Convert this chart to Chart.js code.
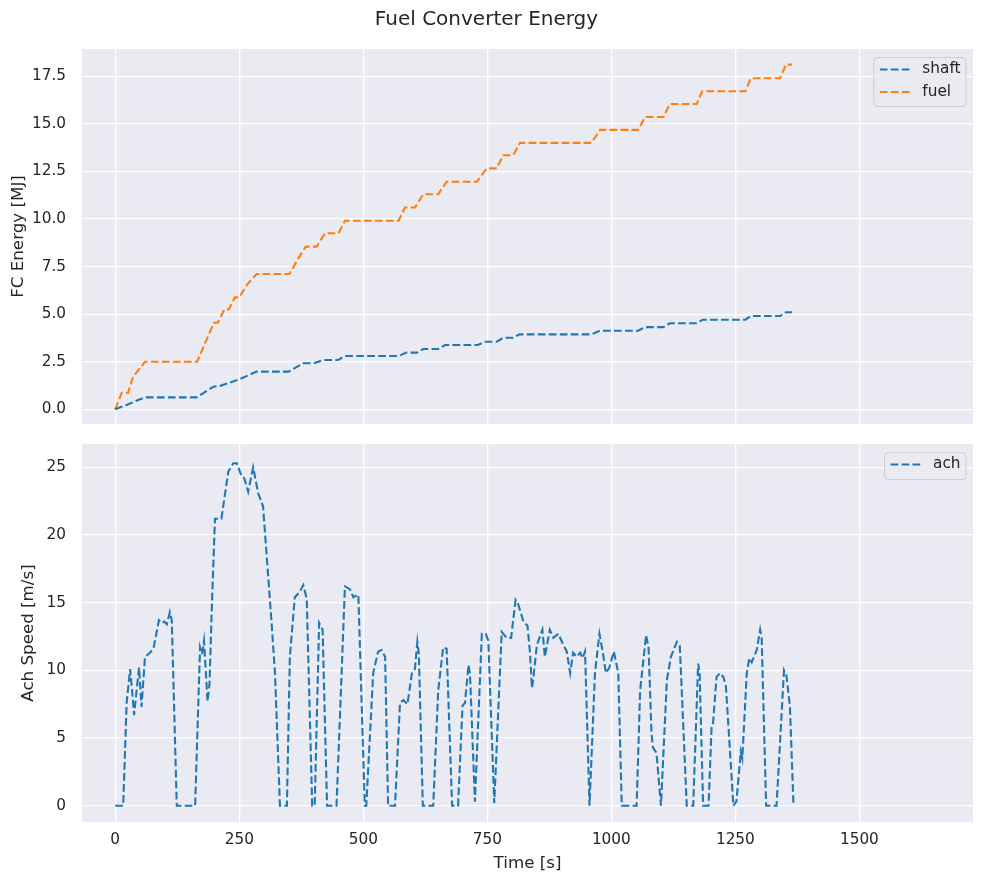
<!DOCTYPE html>
<html>
<head>
<meta charset="utf-8">
<title>Fuel Converter Energy</title>
<script src="https://cdn.jsdelivr.net/npm/chart.js@4.4.1/dist/chart.umd.min.js"></script>
<style>
    body { margin: 0; background: #ffffff; }
    .figure { position: relative; width: 984px; height: 884px; }
    .panel { position: absolute; left: 0; width: 984px; }
</style>
</head>
<body>
<div class="figure">
    <div class="panel" style="top: 0px; height: 440px;"><canvas id="energyChart" width="984" height="440"></canvas></div>
    <div class="panel" style="top: 440px; height: 444px;"><canvas id="speedChart" width="984" height="444"></canvas></div>
</div>
<script>
// fuel converter energy (time in s, energy in MJ)
const fuelTime = [0, 13, 26, 36, 60, 165, 199, 207, 220, 229, 241, 250, 265, 285, 351, 369, 384, 406, 423, 450, 463, 571, 584, 604, 621, 651, 668, 729, 749, 769, 782, 802, 816, 960, 977, 1054, 1068, 1105, 1118, 1172, 1183, 1270, 1281, 1340, 1352, 1364]
const fuelEnergy = [0, 0.87, 0.87, 1.71, 2.50, 2.50, 4.55, 4.55, 5.25, 5.25, 5.88, 5.88, 6.53, 7.11, 7.11, 7.93, 8.55, 8.55, 9.25, 9.25, 9.91, 9.91, 10.6, 10.6, 11.3, 11.3, 11.96, 11.96, 12.66, 12.66, 13.35, 13.35, 14.0, 14.0, 14.68, 14.68, 15.36, 15.36, 16.04, 16.04, 16.71, 16.71, 17.39, 17.39, 18.11, 18.11]

const shaftTime = [0, 23, 46, 60, 164, 198, 210, 251, 285, 349, 379, 400, 419, 449, 463, 571, 587, 609, 621, 651, 665, 731, 745, 769, 782, 802, 815, 960, 977, 1054, 1068, 1105, 1118, 1172, 1184, 1270, 1281, 1340, 1352, 1364]
const shaftEnergy = [0, 0.23, 0.49, 0.63, 0.63, 1.19, 1.22, 1.59, 1.98, 1.98, 2.42, 2.42, 2.59, 2.59, 2.80, 2.80, 2.98, 2.98, 3.17, 3.17, 3.38, 3.38, 3.55, 3.55, 3.76, 3.76, 3.94, 3.94, 4.13, 4.13, 4.32, 4.32, 4.52, 4.52, 4.71, 4.71, 4.90, 4.90, 5.10, 5.10]

// achieved speed (m/s)
const achTime = [0, 16, 23, 30, 34, 38, 43, 48, 53, 60, 70, 77, 88, 93, 99, 104, 110, 114, 124, 161, 171, 175, 179, 186, 190, 195, 201, 214, 228, 238, 245, 255, 260, 268, 278, 288, 298, 315, 322, 332, 346, 352, 362, 372, 379, 386, 397, 402, 411, 418, 427, 446, 463, 473, 480, 490, 503, 506, 520, 530, 537, 544, 550, 564, 574, 581, 589, 598, 604, 609, 612, 620, 641, 651, 661, 668, 679, 691, 700, 705, 712, 715, 725, 739, 747, 752, 764, 779, 789, 798, 807, 812, 823, 831, 836, 840, 843, 850, 861, 866, 876, 883, 893, 903, 910, 917, 923, 930, 937, 942, 947, 956, 967, 976, 983, 989, 996, 1005, 1014, 1021, 1051, 1058, 1070, 1075, 1081, 1084, 1091, 1100, 1112, 1120, 1132, 1138, 1152, 1165, 1175, 1178, 1185, 1196, 1202, 1205, 1212, 1219, 1226, 1231, 1246, 1252, 1261, 1264, 1273, 1278, 1283, 1293, 1300, 1303, 1312, 1333, 1348, 1353, 1360, 1367]
const achSpeed = [0, 0, 7.6, 10.1, 8.5, 6.7, 8.5, 10.2, 7.3, 11.0, 11.3, 11.6, 13.7, 13.5, 13.6, 13.4, 14.3, 13.7, 0, 0, 11.7, 11.2, 12.2, 7.7, 9.0, 15.0, 21.2, 21.2, 24.7, 25.3, 25.3, 24.3, 24.2, 23.2, 25.0, 23.1, 22.1, 13.6, 9.8, 0, 0, 11.0, 15.4, 15.8, 16.3, 15.3, 0, 0, 13.5, 13.0, 0, 0, 16.2, 16.0, 15.4, 15.6, 0, 0, 9.8, 11.4, 11.5, 11.0, 0, 0, 7.6, 7.8, 7.5, 9.8, 10.1, 12.1, 11.2, 0, 0, 8.5, 11.7, 11.6, 0, 0, 7.4, 7.6, 10.4, 9.8, 0.3, 12.7, 12.7, 12.2, 0.2, 12.85, 12.4, 12.4, 15.2, 14.9, 13.6, 13.3, 11.3, 8.7, 9.5, 11.9, 13.0, 11.0, 13.0, 12.4, 12.7, 11.9, 11.4, 9.8, 11.3, 11.0, 11.3, 10.9, 11.4, 0, 9.8, 12.7, 11.3, 9.8, 10.2, 11.4, 9.8, 0, 0, 8.5, 12.6, 11.7, 5.3, 4.3, 3.9, 0, 9.3, 11.0, 12.1, 11.8, 0, 0, 10.5, 9.8, 0, 0, 5.8, 6.1, 9.5, 9.8, 9.5, 8.8, 0, 0.3, 4.0, 3.5, 9.8, 10.9, 10.6, 11.5, 13.0, 12.4, 0, 0, 10.0, 9.6, 7.3, 0.2]

const timeTicks = [0, 250, 500, 750, 1000, 1250, 1500]

const fontFamily = "'DejaVu Sans', 'Liberation Sans', sans-serif"
const textColor = '#262626'
const blue = '#1f77b4'
const orange = '#ff7f0e'

Chart.defaults.font.family = fontFamily
Chart.defaults.color = textColor

function toPoints(xs, ys) {
    return xs.map((x, i) => ({ x: x, y: ys[i] }))
}

function lineDataset(label, xs, ys, color) {
    return {
        label: label,
        data: toPoints(xs, ys),
        borderColor: color,
        backgroundColor: color,
        borderWidth: 2.1,
        borderDash: [7.7, 3.3],
        pointRadius: 0,
        tension: 0,
        fill: false
    }
}

// seaborn-ish grey panel behind the plot
const panelBackground = {
    id: 'panelBackground',
    beforeDraw(chart) {
        const { ctx, chartArea } = chart
        ctx.save()
        ctx.fillStyle = '#eaeaf2'
        ctx.fillRect(chartArea.left, chartArea.top, chartArea.right - chartArea.left, chartArea.bottom - chartArea.top)
        ctx.restore()
    }
}

// matplotlib style legend in the upper right corner of the plot
const cornerLegend = {
    id: 'cornerLegend',
    afterDraw(chart) {
        const { ctx, chartArea } = chart
        const sets = chart.data.datasets
        ctx.save()
        ctx.font = '15.3px ' + fontFamily
        let textW = 0
        sets.forEach(ds => { textW = Math.max(textW, ctx.measureText(ds.label).width) })
        const w = 6 + 30 + 12.5 + textW + 5.5
        const h = 5 + sets.length * 22
        const right = chartArea.right - 7
        const left = right - w
        const top = chartArea.top + 8.5

        ctx.beginPath()
        ctx.roundRect(left, top, w, h, 4)
        ctx.fillStyle = 'rgba(234, 234, 242, 0.8)'
        ctx.fill()
        ctx.strokeStyle = '#cccccc'
        ctx.lineWidth = 1
        ctx.stroke()

        sets.forEach((ds, i) => {
            const y = top + 12 + i * 22.5
            ctx.beginPath()
            ctx.setLineDash(ds.borderDash)
            ctx.strokeStyle = ds.borderColor
            ctx.lineWidth = ds.borderWidth
            ctx.moveTo(left + 6, y)
            ctx.lineTo(left + 36, y)
            ctx.stroke()
            ctx.setLineDash([])
            ctx.fillStyle = textColor
            ctx.textBaseline = 'middle'
            ctx.textAlign = 'left'
            ctx.fillText(ds.label, left + 48.5, y)
        })
        ctx.restore()
    }
}

function timeAxis(showLabels, axisHeight) {
    return {
        type: 'linear',
        min: -67,
        max: 1729,
        afterBuildTicks: scale => { scale.ticks = timeTicks.map(v => ({ value: v })) },
        afterFit: scale => {
            scale.height = axisHeight
            scale.paddingLeft = 0
            scale.paddingRight = 0
        },
        border: { display: false },
        grid: { color: '#ffffff', lineWidth: 1.3, drawTicks: false },
        ticks: {
            display: showLabels,
            padding: 9,
            font: { size: 15.3 },
            color: textColor,
            maxRotation: 0,
            callback: v => String(v)
        },
        title: {
            display: showLabels,
            text: 'Time [s]',
            font: { size: 16.7 },
            color: textColor,
            padding: { top: 0, bottom: 10 }
        }
    }
}

function valueAxis(label, min, max, step, digits, titleGap) {
    return {
        min: min,
        max: max,
        afterFit: scale => {
            scale.width = 82
            scale.paddingTop = 0
            scale.paddingBottom = 0
        },
        border: { display: false },
        grid: { color: '#ffffff', lineWidth: 1.3, drawTicks: false },
        ticks: {
            stepSize: step,
            includeBounds: false,
            padding: 16,
            font: { size: 15.3 },
            color: textColor,
            callback: v => v.toFixed(digits)
        },
        title: {
            display: true,
            text: label,
            font: { size: 16.7 },
            color: textColor,
            padding: { top: titleGap, bottom: 0 }
        }
    }
}

const energyChart = new Chart(document.querySelector('#energyChart'), {
    type: 'line',
    data: {
        datasets: [
            lineDataset('shaft', shaftTime, shaftEnergy, blue),
            lineDataset('fuel', fuelTime, fuelEnergy, orange)
        ]
    },
    options: {
        responsive: false,
        animation: false,
        layout: { padding: { left: 0, right: 11, top: 0, bottom: 0 } },
        plugins: {
            legend: { display: false },
            tooltip: { enabled: false },
            title: {
                display: true,
                text: 'Fuel Converter Energy',
                font: { size: 20, weight: 'normal' },
                color: textColor,
                padding: { top: 8, bottom: 17 }
            }
        },
        scales: {
            x: timeAxis(false, 16),
            y: valueAxis('FC Energy [MJ]', -0.77, 18.93, 2.5, 1, 8.3)
        }
    },
    plugins: [panelBackground, cornerLegend]
})

const speedChart = new Chart(document.querySelector('#speedChart'), {
    type: 'line',
    data: {
        datasets: [
            lineDataset('ach', achTime, achSpeed, blue)
        ]
    },
    options: {
        responsive: false,
        animation: false,
        layout: { padding: { left: 0, right: 11, top: 4, bottom: 0 } },
        plugins: {
            legend: { display: false },
            tooltip: { enabled: false }
        },
        scales: {
            x: timeAxis(true, 62),
            y: valueAxis('Ach Speed [m/s]', -1.2, 26.72, 5, 0, 18.3)
        }
    },
    plugins: [panelBackground, cornerLegend]
})
</script>
</body>
</html>
